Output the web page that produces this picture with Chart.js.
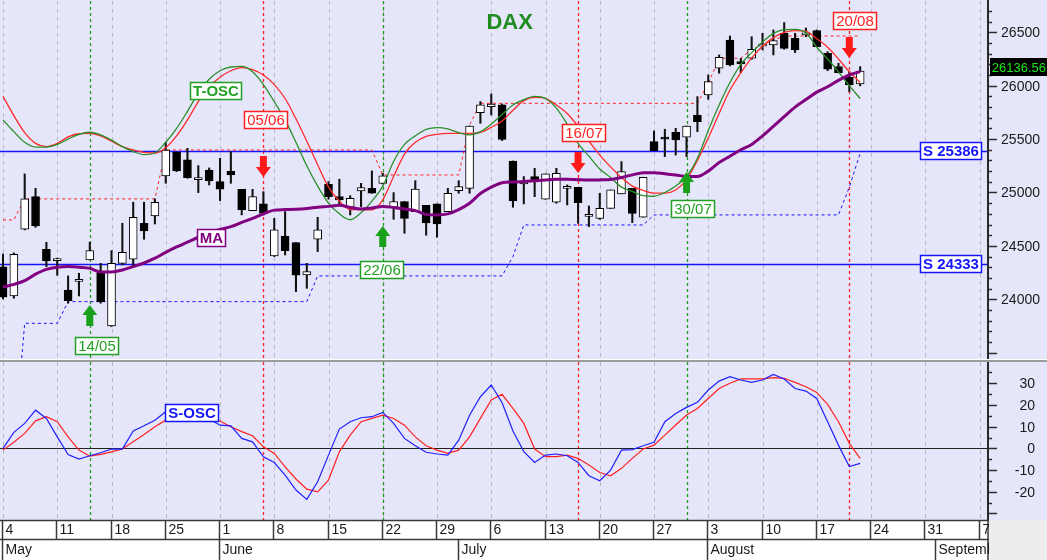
<!DOCTYPE html>
<html>
<head>
<meta charset="utf-8">
<title>DAX</title>
<script src="https://cdn.jsdelivr.net/npm/chart.js@4.4.1/dist/chart.umd.min.js"></script>
<style>
  html, body { margin: 0; padding: 0; background: #e6e6fa; overflow: hidden; }
  #pricePanel { position: absolute; left: 0; top: 0; width: 1047px; height: 359px; }
  #splitter { position: absolute; left: 0; top: 359px; width: 1047px; height: 1px; background: #fff; border-bottom: 2px solid #9c9c9c; }
  #oscPanel { position: absolute; left: 0; top: 362px; width: 1047px; height: 198px; }
</style>
</head>
<body>
<div id="pricePanel"><canvas id="priceChart"></canvas></div>
<div id="splitter"></div>
<div id="oscPanel"><canvas id="oscChart"></canvas></div>
<script>
// one bar per trading day, index 0 = Monday 4 May
const weekLabels = ['4','11','18','25','1','8','15','22','29','6','13','20','27','3','10','17','24','31','7'];
const monthNames = ['May','June','July','August','September'];
const monthStarts = [0, 20, 42, 65, 86];

const opens  = [24305,24031,24656,24961,24468,24362,24087,24168,24369,24250,
                23750,24337,24375,24712,24780,25155,25376,25305,25120,25211,
                25102,25199,25030,24830,24893,24406,24593,24531,24228,24562,
                25077,24961,24862,25015,25039,25086,24862,24915,24821,24880,
                24893,24821,25018,25039,25748,25804,25820,25295,25080,25149,
                24937,24909,25038,25049,24776,24758,24852,24987,25039,24768,
                25476,25514,25564,25517,25726,25913,26163,26428,26225,26257,
                26370,26381,26491,26444,26476,26516,26303,26179,26079,26016];
const highs  = [24424,24434,25174,25039,24534,24385,24219,24244,24534,24337,
                24456,24712,24909,24909,24940,25467,25383,25414,25252,25230,
                25320,25383,25030,25030,25008,24758,24821,24531,24337,24768,
                25102,25124,24970,25086,25202,25180,24999,24915,25111,24880,
                24893,25039,25111,25623,25851,25923,25829,25295,25149,25227,
                25174,25227,25071,25049,24874,24993,25024,25289,25039,25143,
                25576,25592,25601,25623,25898,26101,26288,26465,26257,26459,
                26491,26522,26591,26491,26540,26522,26319,26210,26132,26179];
const lows   = [24003,24010,24650,24674,24306,24225,23963,24031,24369,23963,
                23745,24322,24306,24562,24705,25086,25196,25133,24999,25070,
                24924,25086,24790,24830,24790,24400,24415,24072,24103,24447,
                24937,24883,24790,24868,24993,25080,24749,24618,24821,24600,
                24581,24821,24993,24993,25648,25726,25486,24862,24893,24961,
                24937,24899,24883,24712,24681,24749,24852,24987,24718,24768,
                25392,25336,25351,25336,25570,25873,26117,26185,26123,26247,
                26335,26288,26341,26310,26459,26366,26141,26120,25945,25998];
const closes = [24019,24421,24940,24687,24359,24378,23988,24176,24456,23978,
                24337,24440,24768,24640,24909,25398,25202,25139,25128,25108,
                25030,25164,24837,24961,24805,24650,24456,24225,24259,24650,
                24961,24930,24946,25046,24993,25155,24915,24758,25033,24715,
                24706,24993,25055,25623,25820,25829,25498,24921,25102,25117,
                25174,25180,25046,24905,24784,24852,25024,25196,24805,25143,
                25392,25500,25492,25623,25664,26038,26266,26194,26203,26341,
                26380,26422,26350,26335,26486,26366,26154,26123,26007,26136.56];

const movingAvg = [24115,24140,24175,24235,24280,24300,24306,24300,24290,24255,
                   24256,24275,24306,24340,24385,24440,24490,24535,24581,24620,
                   24655,24680,24720,24758,24800,24835,24840,24843,24850,24862,
                   24870,24880,24860,24845,24855,24870,24860,24845,24830,24795,
                   24790,24800,24840,24899,24990,25050,25092,25098,25102,25110,
                   25118,25124,25124,25120,25117,25118,25122,25140,25165,25185,
                   25186,25175,25164,25150,25149,25200,25280,25340,25400,25450,
                   25530,25620,25710,25800,25870,25940,25990,26050,26100,26132];
const toscFast = [25680,25570,25470,25425,25425,25450,25500,25545,25564,25540,
                  25490,25430,25383,25355,25370,25470,25600,25760,25930,26060,
                  26140,26175,26180,26130,26010,25850,25680,25470,25250,25060,
                  24900,24800,24745,24810,24920,25060,25290,25450,25530,25590,
                  25607,25595,25560,25540,25570,25640,25730,25820,25870,25900,
                  25880,25790,25640,25460,25340,25220,25140,25050,25010,24970,
                  24965,25000,25060,25150,25320,25580,25820,26030,26200,26310,
                  26410,26490,26525,26528,26495,26360,26250,26130,26000,25880];
const toscSlow = [25900,25720,25560,25460,25430,25460,25520,25550,25554,25530,
                  25480,25430,25398,25375,25370,25420,25530,25680,25850,25990,
                  26080,26140,26170,26150,26100,26010,25880,25690,25480,25260,
                  25050,24920,24840,24840,24837,24930,25150,25360,25470,25525,
                  25545,25554,25554,25554,25562,25610,25670,25770,25860,25890,
                  25880,25820,25740,25620,25480,25350,25240,25140,25060,25020,
                  24995,24995,25024,25120,25300,25510,25740,25960,26120,26260,
                  26370,26450,26500,26516,26508,26440,26360,26250,26130,26030];
const resistStop = [24743,24743,24940,24940,24940,24940,24940,24940,24940,24940,
                    24940,24940,24940,24940,24940,25398,25398,25398,25398,25398,
                    25398,25398,25398,25398,25398,25398,25398,25398,25398,25398,
                    25398,25398,25398,25398,25398,25164,25164,25164,25164,25164,
                    25164,25164,25164,25632,25835,25835,25835,25835,25835,25835,
                    25835,25835,25835,25835,25835,25835,25835,25835,25835,25835,
                    25835,25835,25835,25835,25835,26022,26257,26257,26257,26341,
                    26380,26428,26465,26465,26465,26465,26465,26465,26465,26465];
const supportStop = [22600,22600,23775,23775,23775,23775,23978,23978,23978,23978,
                     23978,23978,23978,23978,23978,23978,23978,23978,23978,23978,
                     23978,23978,23978,23978,23978,23978,23978,23978,23978,24219,
                     24219,24219,24219,24219,24219,24219,24219,24219,24219,24219,
                     24219,24219,24219,24219,24219,24219,24219,24400,24696,24696,
                     24696,24696,24696,24696,24696,24696,24696,24696,24696,24696,
                     24790,24790,24790,24790,24790,24790,24790,24790,24790,24790,
                     24790,24790,24790,24790,24790,24790,24790,24790,25050,25367];
const supportLevels = [25386, 24333];

const soscFast = [0.0,7.4,11.5,17.6,13.8,5.3,-2.8,-4.9,-3.4,-2.0,
                  -0.3,-0.3,8.0,10.4,13.0,16.9,17.0,16.5,15.0,13.5,
                  10.7,10.4,4.6,3.0,-3.9,-6.5,-12.3,-19.2,-23.5,-15.4,
                  -3.1,8.9,12.3,14.1,14.6,16.6,11.5,4.6,1.2,-1.8,
                  -2.6,-3.1,3.8,15.3,23.8,29.2,21.0,8.0,-1.5,-6.5,
                  -3.1,-2.6,-3.4,-6.5,-12.6,-14.9,-10.0,-0.8,-0.6,1.2,
                  2.8,12.3,16.1,18.9,21.2,26.9,31.0,33.0,31.5,30.4,
                  31.5,34.1,32.0,27.6,26.4,23.0,12.3,1.5,-8.4,-6.9];
const soscSlow = [-0.8,2.8,6.9,12.7,14.6,12.3,5.3,-0.8,-3.6,-2.8,
                  -1.6,-0.3,3.0,6.4,10.0,13.0,14.5,15.0,14.8,13.8,
                  12.6,10.0,7.7,5.8,0.7,-2.3,-8.5,-14.1,-18.8,-20.0,
                  -14.6,-1.6,6.1,12.3,13.8,15.3,13.8,10.7,5.3,1.2,
                  -0.8,-2.3,-0.8,5.3,13.8,22.3,24.9,18.4,11.5,-0.3,
                  -3.8,-3.8,-3.1,-4.6,-7.7,-11.1,-12.6,-9.2,-4.6,-0.3,
                  1.5,6.1,10.8,15.4,18.4,23.0,27.6,30.0,32.0,32.0,
                  32.0,32.6,32.3,30.4,28.4,25.8,20.3,12.3,2.3,-4.6];

const buyIdx = [8, 35, 63];
const buyLabels = ['14/05', '22/06', '30/07'];
const sellIdx = [24, 53, 78];
const sellLabels = ['05/06', '16/07', '20/08'];

// where the signal arrows and tags sit (bar index / price)
const marks = {
    buyTip: [23946, 24686, 25192],
    buyTagX: [8.66, 34.9, 63.6],
    buyTagY: [23563, 24274, 24846],
    sellTip: [25145, 25183, 26259],
    sellTagX: [24.24, 53.55, 78.5],
    sellTagY: [25679, 25557, 26606]
};

const FONT = '"Liberation Sans", Arial, sans-serif';
const X_MIN = -0.2765, X_MAX = 90.69;
const GREEN = '#1f9a1f', RED = '#ff2020', BLUE = '#1414ff', PURPLE = '#800080';

function pts(values) {
    return values.map((v, i) => ({ x: i, y: v }));
}

function vline(ctx, px, top, bottom) {
    ctx.beginPath();
    ctx.moveTo(px, top);
    ctx.lineTo(px, bottom);
    ctx.stroke();
}

function hline(ctx, py, left, right) {
    ctx.beginPath();
    ctx.moveTo(left, py);
    ctx.lineTo(right, py);
    ctx.stroke();
}

function drawVerticals(chart) {
    const { ctx, chartArea: a, scales: { x } } = chart;
    ctx.save();
    ctx.lineWidth = 1;
    ctx.setLineDash([4, 4]);
    ctx.strokeStyle = '#b9b9c6';
    weekLabels.forEach((t, k) => vline(ctx, Math.round(x.getPixelForValue(k * 5)) + 0.5, a.top, a.bottom));
    ctx.setLineDash([3, 3]);
    ctx.lineWidth = 1.3;
    ctx.strokeStyle = GREEN;
    buyIdx.forEach(i => vline(ctx, Math.round(x.getPixelForValue(i)) + 0.5, a.top, a.bottom));
    ctx.strokeStyle = RED;
    sellIdx.forEach(i => vline(ctx, Math.round(x.getPixelForValue(i)) + 0.5, a.top, a.bottom));
    ctx.restore();
}

function tag(ctx, text, cx, cy, color, weight, align) {
    ctx.font = weight + ' 15px ' + FONT;
    const w = Math.round(ctx.measureText(text).width) + 6;
    const h = 18;
    const left = align === 'right' ? Math.round(cx - w) : Math.round(cx - w / 2);
    const top = Math.round(cy - h / 2);
    ctx.fillStyle = '#fff';
    ctx.fillRect(left, top, w, h);
    ctx.strokeStyle = color;
    ctx.lineWidth = 1.5;
    ctx.strokeRect(left + 0.5, top + 0.5, w - 1, h - 1);
    ctx.fillStyle = color;
    ctx.textAlign = 'center';
    ctx.textBaseline = 'middle';
    ctx.fillText(text, left + w / 2, top + h / 2 + 1);
}

function drawArrow(ctx, px, tip, dir, color) {
    // dir = 1 points up, -1 points down
    const hw = 7.5, hh = 10, sw = 3.5, sl = 11;
    const b = tip + dir * hh, e = tip + dir * (hh + sl);
    ctx.beginPath();
    ctx.moveTo(px, tip);
    ctx.lineTo(px + hw, b);
    ctx.lineTo(px + sw, b);
    ctx.lineTo(px + sw, e);
    ctx.lineTo(px - sw, e);
    ctx.lineTo(px - sw, b);
    ctx.lineTo(px - hw, b);
    ctx.closePath();
    ctx.fillStyle = color;
    ctx.fill();
}

function drawRightAxis(chart, minor, major, from, to, labelFrom, labelTo, textRight) {
    const { ctx, chartArea: a, scales: { y } } = chart;
    ctx.save();
    ctx.strokeStyle = '#2a2a2a';
    ctx.lineWidth = 2;
    vline(ctx, a.right + 1, 0, chart.height);
    ctx.lineWidth = 1.5;
    ctx.font = '14px ' + FONT;
    ctx.fillStyle = '#1a1a1a';
    ctx.textAlign = 'right';
    ctx.textBaseline = 'middle';
    for (let v = from; v <= to; v += minor) {
        const py = Math.round(y.getPixelForValue(v)) + 0.5;
        const isMajor = Math.abs(v % major) < 1e-6;
        hline(ctx, py, a.right + 1, a.right + (isMajor ? 10 : 5));
        if (isMajor && v >= labelFrom && v <= labelTo) {
            ctx.fillText(String(v), textRight, py + 1);
        }
    }
    ctx.restore();
}

const priceDeco = {
    id: 'priceDeco',
    beforeDatasetsDraw(chart) {
        const { ctx, chartArea: a, scales: { y } } = chart;
        drawVerticals(chart);
        ctx.save();
        ctx.strokeStyle = BLUE;
        ctx.lineWidth = 1.5;
        supportLevels.forEach(v => hline(ctx, Math.round(y.getPixelForValue(v)) + 0.5, a.left, a.right));
        ctx.restore();
    },
    afterDatasetsDraw(chart) {
        const { ctx, chartArea: a, scales: { x, y } } = chart;
        ctx.save();
        buyIdx.forEach((i, k) => {
            drawArrow(ctx, x.getPixelForValue(i), y.getPixelForValue(marks.buyTip[k]), 1, '#1aa01a');
            tag(ctx, buyLabels[k], x.getPixelForValue(marks.buyTagX[k]), y.getPixelForValue(marks.buyTagY[k]), '#22a022', 'normal');
        });
        sellIdx.forEach((i, k) => {
            drawArrow(ctx, x.getPixelForValue(i), y.getPixelForValue(marks.sellTip[k]), -1, '#ff1a1a');
            tag(ctx, sellLabels[k], x.getPixelForValue(marks.sellTagX[k]), y.getPixelForValue(marks.sellTagY[k]), RED, 'normal');
        });
        tag(ctx, 'T-OSC', x.getPixelForValue(19.63), y.getPixelForValue(25950), '#22a022', 'bold');
        tag(ctx, 'MA', x.getPixelForValue(19.26), y.getPixelForValue(24574), PURPLE, 'bold');
        supportLevels.forEach(v => tag(ctx, 'S ' + v, a.right - 5, y.getPixelForValue(v), BLUE, 'bold', 'right'));

        ctx.font = 'bold 22px ' + FONT;
        ctx.fillStyle = '#1e8c1e';
        ctx.textAlign = 'center';
        ctx.textBaseline = 'middle';
        ctx.fillText('DAX', x.getPixelForValue(46.7), 23);
        ctx.restore();
    },
    afterDraw(chart) {
        const { ctx, chartArea: a, scales: { y } } = chart;
        drawRightAxis(chart, 100, 500, 23500, 26700, 24000, 26500, 1040);
        const last = closes[closes.length - 1];
        const py = Math.round(y.getPixelForValue(last)) - 4;
        ctx.save();
        ctx.fillStyle = '#000';
        ctx.fillRect(a.right + 3, py - 9, chart.width - a.right - 3, 18);
        ctx.font = '13px ' + FONT;
        ctx.fillStyle = '#19e619';
        ctx.textAlign = 'right';
        ctx.textBaseline = 'middle';
        ctx.fillText(last.toFixed(2), chart.width - 1, py + 1);
        ctx.restore();
    }
};

const oscDeco = {
    id: 'oscDeco',
    beforeDatasetsDraw(chart) {
        const { ctx, chartArea: a, scales: { y } } = chart;
        drawVerticals(chart);
        ctx.save();
        ctx.strokeStyle = '#222';
        ctx.lineWidth = 1.2;
        hline(ctx, Math.round(y.getPixelForValue(0)) + 0.5, a.left, a.right + 4);
        ctx.restore();
    },
    afterDatasetsDraw(chart) {
        const { ctx, scales: { x, y } } = chart;
        ctx.save();
        tag(ctx, 'S-OSC', x.getPixelForValue(17.42), y.getPixelForValue(16.3), BLUE, 'bold');
        ctx.restore();
    },
    afterDraw(chart) {
        const { ctx, chartArea: a, scales: { x } } = chart;
        drawRightAxis(chart, 5, 10, -30, 35, -20, 30, 1035);

        const top = a.bottom, mid = a.bottom + 19, bottom = chart.height;
        ctx.save();
        ctx.fillStyle = '#ededed';
        ctx.fillRect(a.right + 1, top, chart.width - a.right, bottom - top);
        ctx.fillStyle = '#fff';
        ctx.fillRect(0, top, a.right + 1, bottom - top);
        ctx.beginPath();
        ctx.rect(0, top - 2, a.right + 2, bottom - top + 2);
        ctx.clip();
        ctx.strokeStyle = '#3a3a3a';
        ctx.lineWidth = 1.5;
        hline(ctx, top + 0.5, 0, a.right + 2);
        hline(ctx, mid + 0.5, 0, a.right + 2);
        vline(ctx, a.right + 1, top, bottom);
        ctx.font = '14px ' + FONT;
        ctx.fillStyle = '#1a1a1a';
        ctx.textAlign = 'left';
        ctx.textBaseline = 'middle';
        weekLabels.forEach((t, k) => {
            const px = Math.max(1, Math.round(x.getPixelForValue(k * 5)) - 0.5);
            vline(ctx, px, top, mid);
            ctx.fillText(t, px + 3, top + 10.5);
        });
        monthNames.forEach((t, k) => {
            const px = Math.max(1, Math.round(x.getPixelForValue(monthStarts[k])) - 0.5);
            vline(ctx, px, mid, bottom);
            ctx.fillText(t, px + 3, mid + 11);
        });
        ctx.restore();
    }
};

const commonX = { type: 'linear', min: X_MIN, max: X_MAX, offset: false, display: false };

new Chart(document.getElementById('priceChart').getContext('2d'), {
    type: 'bar',
    data: {
        datasets: [
            {
                type: 'line', label: 'Resistance', data: pts(resistStop),
                borderColor: RED, borderWidth: 1, borderDash: [3, 3], pointRadius: 0, order: 8
            },
            {
                type: 'line', label: 'Support', data: pts(supportStop),
                borderColor: BLUE, borderWidth: 1, borderDash: [3, 3], pointRadius: 0, order: 8
            },
            {
                label: 'Wicks', data: lows.map((l, i) => ({ x: i, y: [l, highs[i]] })),
                backgroundColor: '#111', borderWidth: 0, barThickness: 1.4, grouped: false, order: 6
            },
            {
                label: 'Bodies', data: opens.map((o, i) => ({ x: i, y: [o, closes[i]] })),
                backgroundColor: opens.map((o, i) => closes[i] >= o ? '#fff' : '#000'),
                borderColor: '#000', borderWidth: 1, borderSkipped: false,
                barThickness: 8, minBarLength: 2, grouped: false, order: 5
            },
            {
                type: 'line', label: 'T-OSC slow', data: pts(toscSlow),
                borderColor: '#ff2a2a', borderWidth: 1.3, pointRadius: 0,
                cubicInterpolationMode: 'monotone', order: 3
            },
            {
                type: 'line', label: 'T-OSC', data: pts(toscFast),
                borderColor: '#2a8f2a', borderWidth: 1.3, pointRadius: 0,
                cubicInterpolationMode: 'monotone', order: 2
            },
            {
                type: 'line', label: 'MA', data: pts(movingAvg),
                borderColor: PURPLE, borderWidth: 3, pointRadius: 0,
                cubicInterpolationMode: 'monotone', order: 1
            }
        ]
    },
    options: {
        responsive: true,
        maintainAspectRatio: false,
        animation: false,
        layout: { padding: { left: 0, right: 60, top: 1, bottom: 0 } },
        plugins: { legend: { display: false }, tooltip: { enabled: false } },
        scales: {
            x: commonX,
            y: { min: 23441, max: 26793, display: false }
        }
    },
    plugins: [priceDeco]
});

new Chart(document.getElementById('oscChart').getContext('2d'), {
    type: 'line',
    data: {
        datasets: [
            {
                label: 'S-OSC signal', data: pts(soscSlow),
                borderColor: '#ff2020', borderWidth: 1.2, pointRadius: 0, order: 2
            },
            {
                label: 'S-OSC', data: pts(soscFast),
                borderColor: '#2020ff', borderWidth: 1.2, pointRadius: 0, order: 1
            }
        ]
    },
    options: {
        responsive: true,
        maintainAspectRatio: false,
        animation: false,
        layout: { padding: { left: 0, right: 60, top: 0, bottom: 40 } },
        plugins: { legend: { display: false }, tooltip: { enabled: false } },
        scales: {
            x: commonX,
            y: { min: -33.0, max: 39.8, display: false }
        }
    },
    plugins: [oscDeco]
});
</script>
</body>
</html>
